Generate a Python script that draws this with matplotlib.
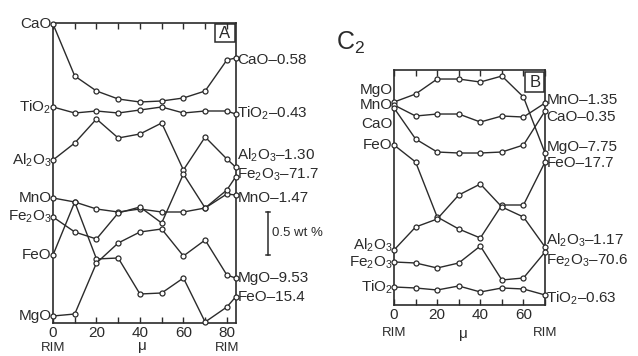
import matplotlib.pyplot as plt
from matplotlib.patches import Rectangle
from matplotlib.transforms import blended_transform_factory

plt.rcParams['font.family'] = ['Liberation Sans', 'DejaVu Sans']
plt.rcParams['mathtext.fontset'] = 'custom'
plt.rcParams['mathtext.rm'] = 'Liberation Sans'

# Panel A: distance from rim (microns) and relative position of each oxide profile
dist_a = [0, 10, 20, 30, 40, 50, 60, 70, 80, 84]
cao_a = [299, 247, 232, 224, 221, 222, 225, 232, 263, 265]
tio2_a = [216, 210, 212, 210, 213, 216, 210, 212, 212, 209]
al2o3_a = [163, 180, 204, 185, 189, 200, 153, 186, 164, 156]
mno_a = [125, 121, 114, 111, 114, 111, 111, 115, 129, 128]
fe2o3_a = [106, 91, 84, 110, 116, 100, 149, 115, 133, 146]
feo_a = [68, 121, 64, 65, 29, 30, 45, 1, 16, 26]
mgo_a = [7, 9, 60, 80, 91, 94, 67, 83, 48, 45]

# Panel B
dist_b = [0, 10, 20, 30, 40, 50, 60, 70]
mgo_b = [203, 211, 226, 226, 223, 229, 208, 152]
mno_b = [200, 189, 191, 191, 183, 189, 188, 202]
cao_b = [197, 166, 153, 152, 152, 153, 160, 194]
feo_b = [160, 143, 88, 76, 67, 100, 100, 143]
al2o3_b = [55, 78, 86, 110, 121, 98, 88, 58]
fe2o3_b = [43, 42, 37, 42, 59, 25, 27, 53]
tio2_b = [18, 17, 15, 19, 13, 17, 16, 10]

left_a = ['CaO', 'TiO$_2$', 'Al$_2$O$_3$', 'MnO', 'Fe$_2$O$_3$', 'FeO', 'MgO']
right_a = ['CaO–0.58', 'TiO$_2$–0.43', 'Al$_2$O$_3$–1.30', 'Fe$_2$O$_3$–71.7',
           'MnO–1.47', 'MgO–9.53', 'FeO–15.4']
left_b = ['MgO', 'MnO', 'CaO', 'FeO', 'Al$_2$O$_3$', 'Fe$_2$O$_3$', 'TiO$_2$']
right_b = ['MnO–1.35', 'CaO–0.35', 'MgO–7.75', 'FeO–17.7', 'Al$_2$O$_3$–1.17',
           'Fe$_2$O$_3$–70.6', 'TiO$_2$–0.63']

ink = '#2b2b2b'
fig = plt.figure(figsize=(6.38, 3.56), dpi=100)
axA = fig.add_axes([0.0831, 0.0927, 0.2868, 0.8427])
axB = fig.add_axes([0.6176, 0.1433, 0.2367, 0.660])


def panel(ax, x, series, xmax, ymax, xlabs, left, left_y, right, right_y, tag):
    for s in series:
        ax.plot(x, s, color=ink, lw=1.0, marker='o', ms=3.6, mfc='white',
                mec=ink, mew=0.9, clip_on=False, zorder=3)
    ax.set_xlim(0, xmax)
    ax.set_ylim(0, ymax)
    ax.set_yticks([])
    ax.set_xticks(xlabs)
    ax.set_xticks(range(0, int(xmax) + 1, 10), minor=True)
    ax.tick_params(axis='x', which='both', direction='in', top=True,
                   length=4, width=1, color=ink, labelsize=11, pad=2,
                   labelcolor=ink)
    for sp in ax.spines.values():
        sp.set_linewidth(1.2)
        sp.set_color(ink)
    tr = blended_transform_factory(ax.transAxes, ax.transData)
    for lab, yy in zip(left, left_y):
        ax.text(-0.008, yy, lab, transform=tr, ha='right', va='center',
                fontsize=11, color=ink)
    for lab, yy in zip(right, right_y):
        ax.text(1.008, yy, lab, transform=tr, ha='left', va='center',
                fontsize=11, color=ink)
    ax.add_patch(Rectangle((tag[0], tag[1]), tag[2], tag[3], transform=ax.transAxes,
                           fill=False, ec=ink, lw=1.1, zorder=4))
    ax.text(tag[0] + tag[2] / 2, tag[1] + tag[3] / 2, tag[4], transform=ax.transAxes,
            ha='center', va='center', fontsize=12, color=ink)


panel(axA, dist_a, [cao_a, tio2_a, al2o3_a, mno_a, fe2o3_a, feo_a, mgo_a],
      84.2, 300, [0, 20, 40, 60, 80],
      left_a, [cao_a[0], tio2_a[0], al2o3_a[0], mno_a[0], fe2o3_a[0], feo_a[0], mgo_a[0]],
      right_a, [263, 210, 168, 148, 125, 45, 26],
      (0.885, 0.935, 0.11, 0.06, 'A'))
panel(axB, dist_b, [mgo_b, mno_b, cao_b, feo_b, al2o3_b, fe2o3_b, tio2_b],
      70, 235, [0, 20, 40, 60],
      left_b, [215, 200, 181, 160, 60, 42, 18],
      right_b, [205, 188, 158, 142, 65, 44, 7],
      (0.868, 0.906, 0.127, 0.085, 'B'))

# RIM / micron labels under the axes
trA = blended_transform_factory(axA.transData, axA.transAxes)
axA.text(0, -0.083, 'RIM', transform=trA, ha='center', va='center', fontsize=9.5, color=ink)
axA.text(80, -0.083, 'RIM', transform=trA, ha='center', va='center', fontsize=9.5, color=ink)
axA.text(41, -0.078, 'μ', transform=trA, ha='center', va='center', fontsize=11, color=ink)
trB = blended_transform_factory(axB.transData, axB.transAxes)
axB.text(0, -0.12, 'RIM', transform=trB, ha='center', va='center', fontsize=9.5, color=ink)
axB.text(70, -0.12, 'RIM', transform=trB, ha='center', va='center', fontsize=9.5, color=ink)
axB.text(32, -0.125, 'μ', transform=trB, ha='center', va='center', fontsize=11, color=ink)

# 0.5 wt % scale bar
axA.plot([98.9, 98.9], [68, 111], color=ink, lw=1.1, clip_on=False)
axA.plot([97.9, 99.9], [68, 68], color=ink, lw=1.1, clip_on=False)
axA.plot([97.9, 99.9], [111, 111], color=ink, lw=1.1, clip_on=False)
axA.text(100.6, 90, '0.5 wt %', ha='left', va='center', fontsize=9.5, color=ink)

fig.text(0.549, 0.879, 'C$_2$', ha='center', va='center', fontsize=18, color=ink)

fig.savefig('out.png', dpi=100)
